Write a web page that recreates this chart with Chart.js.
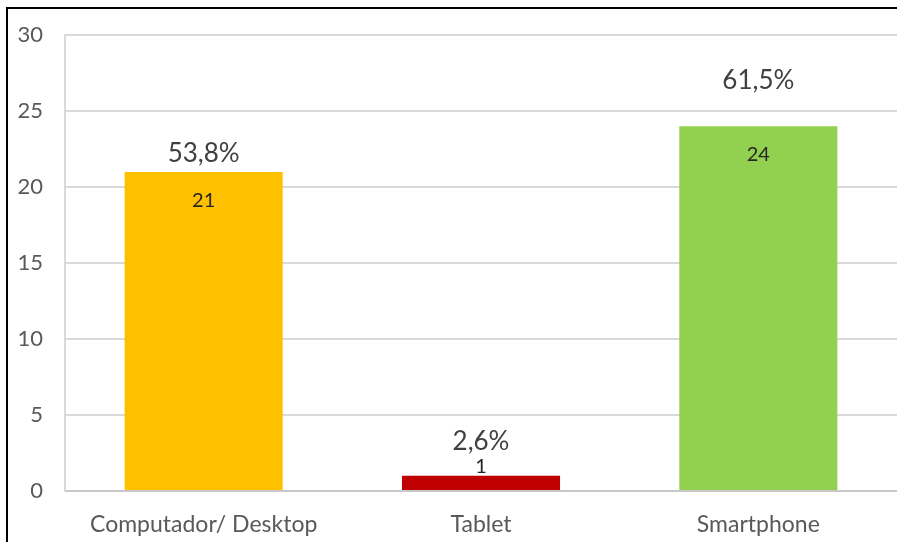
<!DOCTYPE html>
<html>
<head>
<meta charset="utf-8">
<script src="https://cdn.jsdelivr.net/npm/chart.js@4/dist/chart.umd.min.js"></script>
<style>
  html, body { margin: 0; padding: 0; background: #fff; overflow: hidden; }
  canvas { display: block; }
</style>
</head>
<body>
<canvas id="c" width="897" height="542"></canvas>
<script>
// Devices used to access the content
const categories = ['Computador/ Desktop', 'Tablet', 'Smartphone'];
const counts = [21, 1, 24];
const shares = ['53,8%', '2,6%', '61,5%'];
const yTicks = [0, 5, 10, 15, 20, 25, 30];

const barColors = ['#FFC000', '#C00000', '#92D050'];
const FONT = 'Lato, "Open Sans", sans-serif';

// Label placement relative to each bar top (pixels, + is downward)
const countShift = [29, -9, 28];
const shareShift = [-18, -34, -46];

const barLabels = {
  id: 'barLabels',
  afterDatasetsDraw(chart) {
    const ctx = chart.ctx;
    const meta = chart.getDatasetMeta(0);
    ctx.save();
    ctx.textAlign = 'center';
    ctx.textBaseline = 'middle';
    meta.data.forEach((bar, i) => {
      ctx.font = '20px ' + FONT;
      ctx.fillStyle = '#262626';
      ctx.fillText(String(counts[i]), bar.x, bar.y + countShift[i]);
      ctx.font = '26px ' + FONT;
      ctx.fillStyle = '#404040';
      ctx.fillText(shares[i], bar.x, bar.y + shareShift[i]);
    });
    ctx.restore();
  }
};

// Black frame along the top and left edges
const frame = {
  id: 'frame',
  afterDraw(chart) {
    const ctx = chart.ctx;
    ctx.save();
    ctx.strokeStyle = '#000';
    ctx.lineWidth = 2;
    ctx.beginPath();
    ctx.moveTo(7, chart.height);
    ctx.lineTo(7, 8);
    ctx.lineTo(chart.width, 8);
    ctx.stroke();
    ctx.restore();
  }
};

new Chart(document.getElementById('c'), {
  type: 'bar',
  data: {
    labels: categories,
    datasets: [{
      data: counts,
      backgroundColor: barColors,
      borderWidth: 0,
      categoryPercentage: 1,
      barPercentage: 0.57
    }]
  },
  options: {
    responsive: false,
    animation: false,
    layout: { padding: { top: 30, right: 0, bottom: 0, left: 0 } },
    plugins: { legend: { display: false }, tooltip: { enabled: false } },
    scales: {
      x: {
        grid: { display: false },
        border: { display: true, color: '#c8c8c8', width: 2 },
        ticks: { color: '#595959', font: { family: FONT, size: 23 }, padding: 12 },
        afterFit(scale) { scale.height = 51; }
      },
      y: {
        min: 0,
        max: 30,
        afterBuildTicks(scale) { scale.ticks = yTicks.map(v => ({ value: v })); },
        grid: { color: '#d9d9d9', lineWidth: 2, drawTicks: false },
        border: { display: true, color: '#d9d9d9', width: 2 },
        ticks: { color: '#595959', font: { family: FONT, size: 22 }, padding: 22 },
        afterFit(scale) { scale.width = 65; }
      }
    }
  },
  plugins: [barLabels, frame]
});
</script>
</body>
</html>
